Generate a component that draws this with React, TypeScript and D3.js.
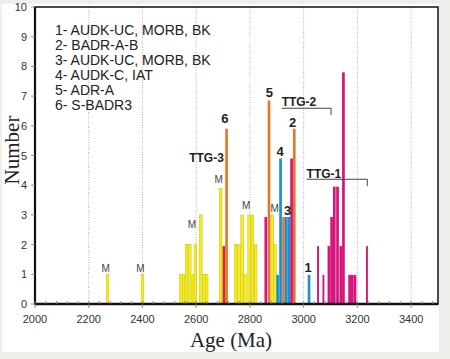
import React from "react";
import * as d3 from "d3";

// ---- data (age = bin start in Ma, count = number) ----
const yellowBars: [number, number][] = [
  [2265, 1], [2395, 1],
  [2538, 1], [2548, 1], [2559, 2], [2571, 2], [2584, 1], [2592, 2],
  [2612, 3], [2623, 1], [2634, 1], [2686, 3.9],
  [2742, 2], [2754, 2], [2766, 3], [2776, 1],
  [2792, 3], [2804, 3], [2816, 2],
  [2878, 3], [2888, 2],
];
const orangeBars: [number, number][] = [
  [2708, 5.9], [2866, 6.85], [2920, 2.93], [2960, 5.9],
];
const redBars: [number, number][] = [[2698, 1.95]];
const blueBars: [number, number][] = [
  [2898, 0.98], [2909, 4.9], [2930, 2.93], [2940, 2.93], [3015, 0.98],
];
const magentaBars: [number, number][] = [
  [2854, 2.93], [2950, 4.9],
  [3089, 1.95], [3099, 2.93], [3109, 3.95], [3121, 3.95], [3133, 1.95],
  [3143, 7.8], [3166, 0.98], [3176, 0.98], [3186, 0.98],
];
const magentaNarrowBars: [number, number][] = [[3050, 1.95], [3070, 0.98], [3232, 1.95]];

const xTicks = [2000, 2200, 2400, 2600, 2800, 3000, 3200, 3400];
const yTicks = [0, 1, 2, 3, 4, 5, 6, 7, 8, 9, 10];
const gridAges = [2200, 2400, 2600, 2800, 3000, 3200, 3400];

const legendItems = [
  "1- AUDK-UC, MORB, BK",
  "2- BADR-A-B",
  "3- AUDK-UC, MORB, BK",
  "4- AUDK-C, IAT",
  "5- ADR-A",
  "6- S-BADR3",
];

// annotations: [text, age, value]
const numberLabels: [string, number, number][] = [
  ["6", 2707, 6.26], ["5", 2872, 7.11], ["2", 2959, 6.1],
  ["4", 2912, 5.15], ["3", 2940, 3.16], ["1", 3017, 1.24],
];
const mLabels: [number, number][] = [
  [2263, 1.2], [2392, 1.2], [2584, 2.67], [2684, 4.18], [2786, 3.33], [2892, 3.22],
];
// TTG groups: [text, startAge, textValue, lineValue, endAge, endValue]
const ttgLabels: [string, number, number, number, number | null, number | null][] = [
  ["TTG-3", 2574, 4.91, 0, null, null],
  ["TTG-2", 2918, 6.81, 6.59, 3102, 6.36],
  ["TTG-1", 3011, 4.38, 4.2, 3237, 3.97],
];

const W = 450;
const H = 359;
const L = 35, R = 438, T = 7, B = 304;

export default function App() {
  const x = d3.scaleLinear().domain([2000, 3500]).range([L, R]);
  const y = d3.scaleLinear().domain([0, 10]).range([B, T]);
  const minor = d3.range(2000, 3500, 40);
  const binW = 10;

  const bars = (data: [number, number][], fill: string, stroke: string | null, w: number) =>
    data.map(([a, c], i) => (
      <rect
        key={fill + i + a}
        x={x(a)}
        y={y(c)}
        width={x(a + w) - x(a)}
        height={y(0) - y(c)}
        fill={fill}
        stroke={stroke ?? "none"}
        strokeWidth={stroke ? 0.5 : 0}
      />
    ));

  return (
    <svg width={W} height={H} style={{ position: "absolute", left: 0, top: 0 }}>
      <rect x={0} y={0} width={W} height={H} fill="#efeeea" />
      <rect x={2} y={4} width={437} height={348} fill="#ffffff" />

      {gridAges.map((g) => (
        <line key={g} x1={x(g)} x2={x(g)} y1={T} y2={B} stroke="#9a9a9a" strokeWidth={0.8} strokeDasharray="1,1.5" />
      ))}

      {bars(yellowBars, "#f6ee1c", "#c6bd12", binW)}
      {bars(orangeBars, "#e07a28", null, binW)}
      {bars(redBars, "#d8292f", null, binW)}
      {bars(blueBars, "#1b8fd2", null, binW)}
      {bars(magentaBars, "#d4157b", null, binW)}
      {bars(magentaNarrowBars, "#d4157b", null, 7)}

      {/* frame */}
      <rect x={L} y={T} width={R - L} height={B - T} fill="none" stroke="#111" strokeWidth={1.5} />
      <line x1={L} x2={L} y1={T} y2={B} stroke="#111" strokeWidth={2.2} />
      <line x1={L} x2={R} y1={B} y2={B} stroke="#111" strokeWidth={2.4} />

      {/* y ticks */}
      {yTicks.map((t) => (
        <g key={t}>
          <line x1={L - 4} x2={L} y1={y(t)} y2={y(t)} stroke="#777" strokeWidth={0.8} />
          <text x={27} y={y(t)} textAnchor="end" dominantBaseline="central" fontSize={11}
            fontFamily="Liberation Sans, Arial, sans-serif" fill="#333">{t}</text>
        </g>
      ))}
      {/* x ticks */}
      {minor.map((m) => (
        <line key={m} x1={x(m)} x2={x(m)} y1={B - 3} y2={B} stroke="#777" strokeWidth={0.8} />
      ))}
      {xTicks.map((t) => (
        <g key={t}>
          <line x1={x(t)} x2={x(t)} y1={B} y2={B + 4} stroke="#777" strokeWidth={0.8} />
          <text x={x(t)} y={319} textAnchor="middle" dominantBaseline="central" fontSize={11}
            fontFamily="Liberation Sans, Arial, sans-serif" fill="#333">{t}</text>
        </g>
      ))}

      {/* axis titles */}
      <text x={231} y={347} textAnchor="middle" fontSize={21}
        fontFamily="Liberation Serif, Times New Roman, serif" fill="#222">Age (Ma)</text>
      <text transform="translate(19,150) rotate(-90)" textAnchor="middle" fontSize={21}
        fontFamily="Liberation Serif, Times New Roman, serif" fill="#222">Number</text>

      {/* legend */}
      {legendItems.map((s, i) => (
        <text key={s + i} x={55} y={30 + i * 15} dominantBaseline="central" fontSize={14}
          fontFamily="Liberation Sans, Arial, sans-serif" fill="#222">{s}</text>
      ))}

      {/* M labels */}
      {mLabels.map(([a, v], i) => (
        <text key={"m" + i} x={x(a)} y={y(v)} textAnchor="middle" dominantBaseline="central" fontSize={10}
          fontFamily="Liberation Sans, Arial, sans-serif" fill="#444">M</text>
      ))}

      {/* number labels */}
      {numberLabels.map(([s, a, v]) => (
        <text key={"n" + s} x={x(a)} y={y(v)} textAnchor="middle" dominantBaseline="central" fontSize={13}
          fontWeight="bold" fontFamily="Liberation Sans, Arial, sans-serif" fill="#222">{s}</text>
      ))}

      {/* TTG labels */}
      {ttgLabels.map(([s, a, tv, lv, ea, ev]) => (
        <g key={s}>
          <text x={x(a)} y={y(tv)} dominantBaseline="central" fontSize={12} fontWeight="bold"
            fontFamily="Liberation Sans, Arial, sans-serif" fill="#222">{s}</text>
          {ea !== null && ev !== null && (
            <path d={`M${x(a)},${y(lv)}H${x(ea)}V${y(ev)}`} fill="none" stroke="#444" strokeWidth={1} />
          )}
        </g>
      ))}
    </svg>
  );
}
